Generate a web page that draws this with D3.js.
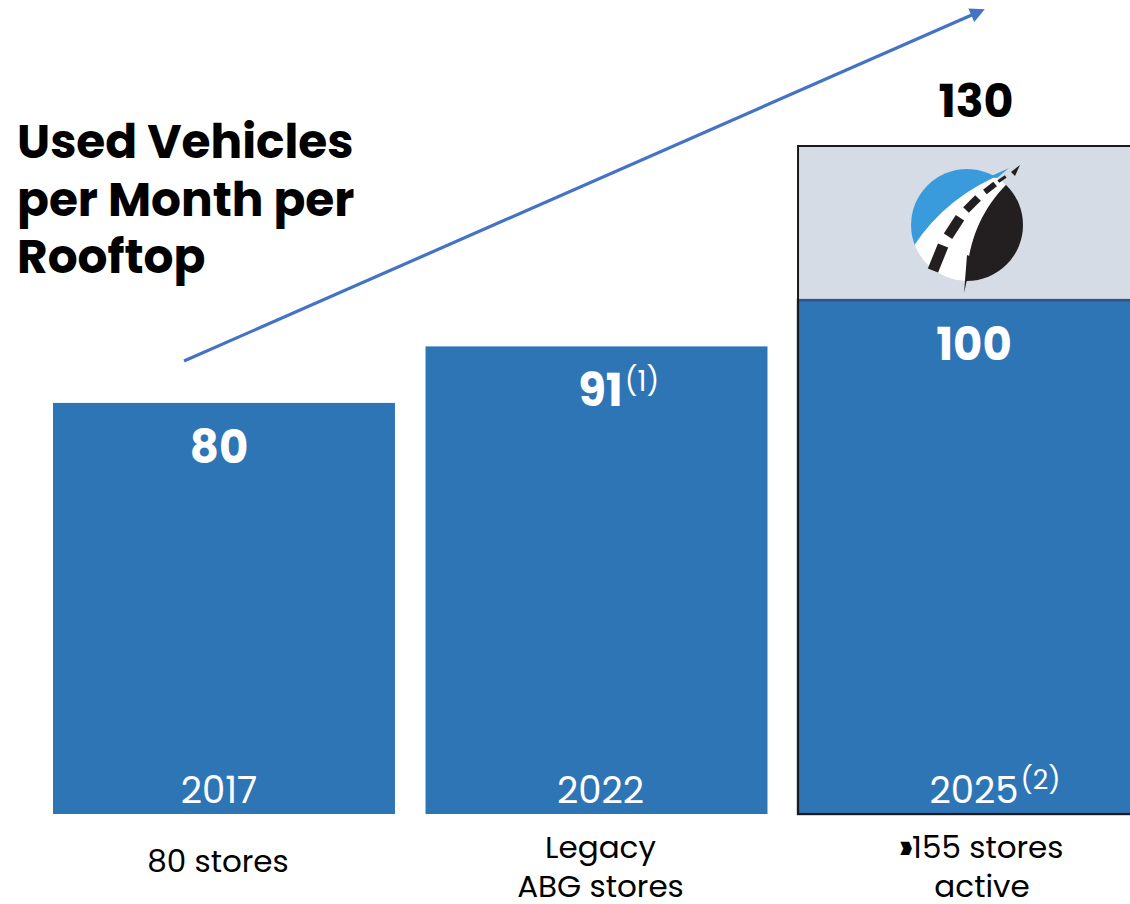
<!DOCTYPE html>
<html>
<head>
<meta charset="utf-8">
<script src="https://cdn.jsdelivr.net/npm/d3@7"></script>
<style>
  html, body { margin: 0; padding: 0; background: #fff; }
  svg { display: block; font-family: "Poppins", "Inter", "Noto Sans", sans-serif; }
</style>
</head>
<body>
<svg id="chart" width="1130" height="904"></svg>
<script>
// chart values
const years = ["2017", "2022", "2025"];
const yearNotes = ["", "", "(2)"];
const values = [80, 91, 100];
const valueNotes = ["", "(1)", ""];
const targetValue = 130; // only the last bar has a stretch target
const storeLabels = [["80 stores"], ["Legacy", "ABG stores"], ["\u203A155 stores", "active"]];
const title = ["Used Vehicles", "per Month per", "Rooftop"];

const barBlue = "#2E75B6";
const grey = "#D6DCE5";

// labels sit a touch off the bar centres in the original
const nudge = [-5, 4, 5];

const svg = d3.select("#chart");

const x = d3.scaleBand()
    .domain(years)
    .range([53, 1140])
    .paddingInner(0.082)
    .paddingOuter(0);

const y = d3.scaleLinear()
    .domain([0, 130])
    .range([814, 146]);

// title
svg.append("text")
    .attr("x", 18)
    .attr("y", 158)
    .style("font-size", "47px")
    .style("font-weight", "700")
    .style("fill", "#000")
    .selectAll("tspan")
    .data(title)
    .enter()
    .append("tspan")
    .attr("x", 17)
    .attr("dy", (d, i) => i == 0 ? 0 : 57.5)
    .text(d => d);

// trend arrow
svg.append("defs").append("marker")
    .attr("id", "head")
    .attr("viewBox", "0 0 10 10")
    .attr("refX", 2)
    .attr("refY", 5)
    .attr("markerWidth", 5.2)
    .attr("markerHeight", 4.6)
    .attr("orient", "auto")
    .append("path")
    .attr("d", "M0,0 L10,5 L0,10 z")
    .style("fill", "#4472C4");

svg.append("line")
    .attr("x1", 184).attr("y1", 361)
    .attr("x2", 974).attr("y2", 14)
    .style("stroke", "#4472C4")
    .style("stroke-width", 3.2)
    .attr("marker-end", "url(#head)");

// stretch target (grey section on the last bar)
const last = years.length - 1;
svg.append("rect")
    .attr("x", x(years[last]))
    .attr("y", y(targetValue))
    .attr("width", x.bandwidth())
    .attr("height", y(values[last]) - y(targetValue))
    .style("fill", grey);

// bars
svg.selectAll("rect.bar")
    .data(values)
    .enter()
    .append("rect")
    .attr("class", "bar")
    .attr("x", (d, i) => x(years[i]))
    .attr("y", d => y(d))
    .attr("width", x.bandwidth())
    .attr("height", d => y(0) - y(d))
    .style("fill", barBlue)
    .style("stroke", (d, i) => i == last ? "#2F528F" : "none")
    .style("stroke-width", 2.5);

// outline around the whole target bar
svg.append("rect")
    .attr("x", x(years[last]))
    .attr("y", y(targetValue))
    .attr("width", x.bandwidth())
    .attr("height", y(0) - y(targetValue))
    .style("fill", "none")
    .style("stroke", "#1a1a1a")
    .style("stroke-width", 2);

// value labels with optional footnote markers
function labelWithNote(text, cx, baseline, size, weight, color, note, noteSize, noteRise) {
    const t = svg.append("text")
        .attr("x", cx)
        .attr("y", baseline)
        .attr("text-anchor", "middle")
        .style("font-size", size + "px")
        .style("font-weight", weight)
        .style("fill", color)
        .text(text);
    if (note) {
        const w = t.node().getComputedTextLength();
        svg.append("text")
            .attr("x", cx + w / 2 + 2)
            .attr("y", baseline - noteRise)
            .style("font-size", noteSize + "px")
            .style("font-weight", "400")
            .style("fill", color)
            .text(note);
    }
}

values.forEach((v, i) => {
    const cx = x(years[i]) + x.bandwidth() / 2 + nudge[i];
    labelWithNote(String(v), cx, y(v) + 60, 45, 700, "#fff", valueNotes[i], 28, 15);
    labelWithNote(years[i], cx, y(0) - 11, 37, 400, "#fff", yearNotes[i], 27, 14);
});

labelWithNote(String(targetValue), x(years[last]) + x.bandwidth() / 2 + 7, y(targetValue) - 29, 46, 700, "#000", "", 0, 0);

// store count labels under each bar
storeLabels.forEach((lines, i) => {
    const cx = x(years[i]) + x.bandwidth() / 2;
    const t = svg.append("text")
        .attr("text-anchor", "middle")
        .style("font-size", "31px")
        .style("fill", "#000");
    lines.forEach((l, j) => {
        const startY = lines.length == 1 ? 872 : 858;
        const ts = t.append("tspan")
            .attr("x", cx + (i == 0 ? -6 : i == 2 ? 13 : 4))
            .attr("y", startY + j * 39);
        if (l.charAt(0) == "\u203A") {
            ts.append("tspan")
                .style("font-weight", "900")
                .style("stroke", "#000")
                .style("stroke-width", 2.2)
                .text("\u203A");
            ts.append("tspan").text(l.slice(1));
        } else {
            ts.text(l);
        }
    });
});

// road logo in the target section
const lx = x(years[last]) + x.bandwidth() / 2 - 2;
const logo = svg.append("g").attr("transform", `translate(${lx},225)`);
logo.append("clipPath").attr("id", "disc")
    .append("circle").attr("r", 56);
const disc = logo.append("g").attr("clip-path", "url(#disc)");
disc.append("circle").attr("r", 56).style("fill", "#fff");
disc.append("path")
    .attr("d", "M-60,28 L-54,22 Q-20,-30 40,-53 L60,-70 L-70,-70 z")
    .style("fill", "#3A9BDC");
disc.append("path")
    .attr("d", "M-2,70 C0,20 10,-15 51,-52 L70,-70 L70,70 z")
    .style("fill", "#231F20");
// spikes poking out of the disc
logo.append("path")
    .attr("d", "M-3,68 L0,30 L5,32 z")
    .style("fill", "#231F20");
logo.append("path")
    .attr("d", "M44,-53 L53,-60 L48,-49 z")
    .style("fill", "#231F20");
logo.append("path")
    .attr("d", "M22,-48 L42,-57 L30,-47 z")
    .style("fill", "#3A9BDC");
// lane dashes: centre x, centre y, thickness, length, angle
const dashes = [[-29, 33, 11, 27, 22], [-13, 2, 10, 22, 33], [5, -21, 8, 17, 45], [23, -37, 6, 13, 52], [35, -46, 3, 9, 56]];
dashes.forEach(d => {
    logo.append("rect")
        .attr("x", -d[2] / 2).attr("y", -d[3] / 2)
        .attr("width", d[2]).attr("height", d[3])
        .attr("transform", `translate(${d[0]},${d[1]}) rotate(${d[4]})`)
        .style("fill", "#231F20");
});
</script>
</body>
</html>
